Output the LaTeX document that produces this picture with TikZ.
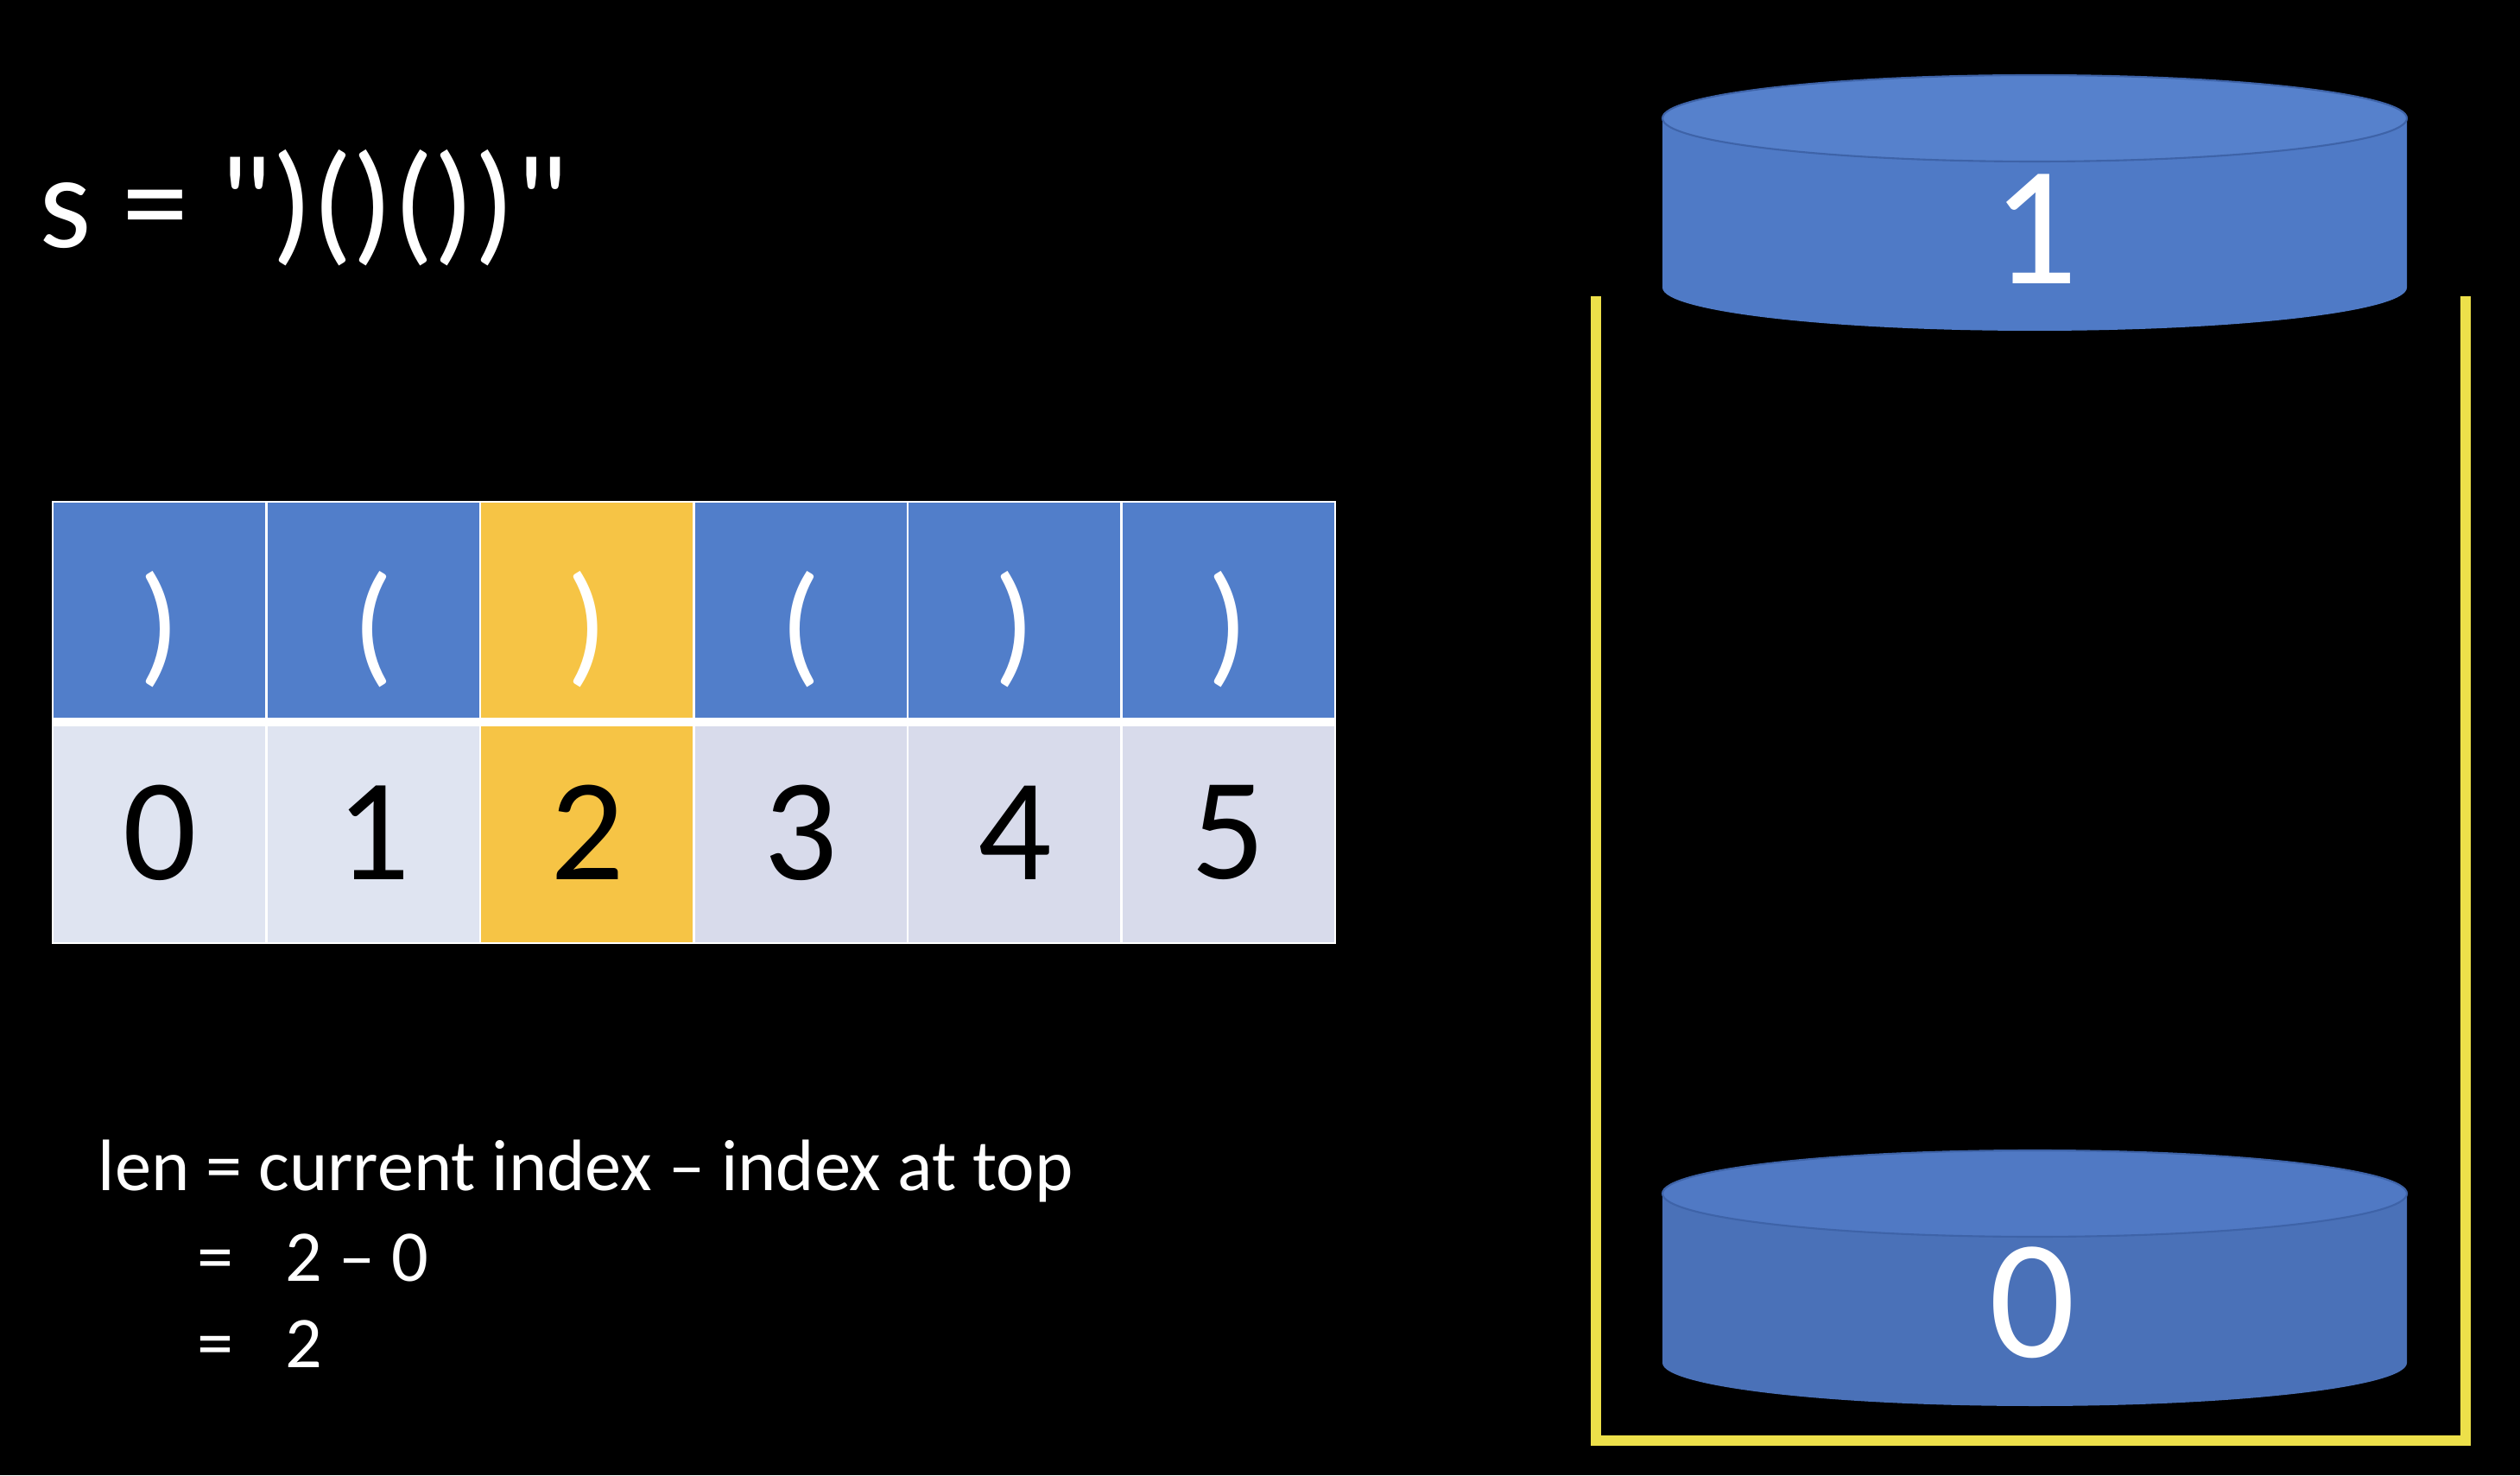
\documentclass[tikz,border=0pt]{standalone}
\usepackage{fontspec}
\setmainfont{Carlito}[Ligatures=TeXOff]
\usetikzlibrary{positioning}
\definecolor{cellblue}{HTML}{517ECA}
\definecolor{cellhl}{HTML}{F6C445}
\definecolor{idxlight}{HTML}{DFE4F1}
\definecolor{idxdark}{HTML}{D8DBEB}
\definecolor{discface}{HTML}{5681CC}
\definecolor{discbody}{HTML}{4F7AC6}
\definecolor{discfaceb}{HTML}{5079C4}
\definecolor{discbodyb}{HTML}{4A71B8}
\definecolor{discedge}{HTML}{3E63A8}
\definecolor{stackyellow}{HTML}{EDE04A}
\newcommand\opn{(}
\newcommand\cls{)}
\tikzset{
  charcell/.style={draw=white, line width=0.8pt, outer sep=0pt, inner sep=0pt,
    fill=#1, minimum width=2.475cm, minimum height=2.55cm,
    text=white, font=\fontsize{44}{44}\selectfont},
  idxcell/.style={draw=white, line width=0.8pt, outer sep=0pt, inner sep=0pt,
    fill=#1, minimum width=2.475cm, minimum height=2.56cm,
    text=black, font=\fontsize{48}{48}\selectfont},
  bigtext/.style={text=white, inner sep=0pt, font=\fontsize{44}{44}\selectfont},
  formula/.style={text=white, inner sep=0pt, font=\fontsize{24}{24}\selectfont},
  disclabel/.style={text=white, inner sep=0pt, font=\fontsize{56}{56}\selectfont},
  stackline/.style={draw=stackyellow, line width=3.5pt, line join=miter}
}
\begin{document}
\begin{tikzpicture}
  \useasboundingbox (0,0) rectangle (29.18,17.08);
  \fill[black] (0,0) rectangle (29.18,17.08);

  % the string
  \node[bigtext, anchor=base west] (str) at (0.45,14.21) {s = ")()())"};

  % characters and their indices
  \foreach \ch/\col [count=\i from 0] in {\cls/cellblue,\opn/cellblue,\cls/cellhl,\opn/cellblue,\cls/cellblue,\cls/cellblue}
    \node[charcell=\col] (c\i) at ({1.8475+2.475*\i},9.995) {\raisebox{-0.2cm}[\height][\depth]{\ch}};
  \foreach \col [count=\i from 0] in {idxlight,idxlight,cellhl,idxdark,idxdark,idxdark}
    \node[idxcell=\col, below=0pt of c\i] (n\i) {\i};
  \draw[white, line width=3pt] (c0.south west) -- (c5.south east);

  % length
  \node[formula, anchor=base west] (lenA) at (1.13,3.30) {len = current index – index at top};
  \node[formula, anchor=base west] (lenB) at (2.28,2.25) {=\hspace{0.6cm}2 – 0};
  \node[formula, anchor=base west] (lenC) at (2.28,1.25) {=\hspace{0.6cm}2};

  % stack
  \draw[stackline] (18.48,13.65) -- (18.48,0.40) -- (28.55,0.40) -- (28.55,13.65);
  \begin{scope}
    \fill[discbody] (19.25,15.71) -- (19.25,13.75)
      arc[start angle=180, end angle=360, x radius=4.31cm, y radius=0.5cm] -- (27.87,15.71) -- cycle;
    \filldraw[fill=discface, draw=discedge, line width=0.6pt] (23.56,15.71) ellipse [x radius=4.31cm, y radius=0.5cm];
    \node[disclabel] (top) at (23.56,14.43) {1};
  \end{scope}
  \begin{scope}[yshift=-12.45cm]
    \fill[discbodyb] (19.25,15.71) -- (19.25,13.75)
      arc[start angle=180, end angle=360, x radius=4.31cm, y radius=0.5cm] -- (27.87,15.71) -- cycle;
    \filldraw[fill=discfaceb, draw=discedge, line width=0.6pt] (23.56,15.71) ellipse [x radius=4.31cm, y radius=0.5cm];
    \node[disclabel] (bottom) at (23.53,14.45) {0};
  \end{scope}
\end{tikzpicture}
\end{document}
